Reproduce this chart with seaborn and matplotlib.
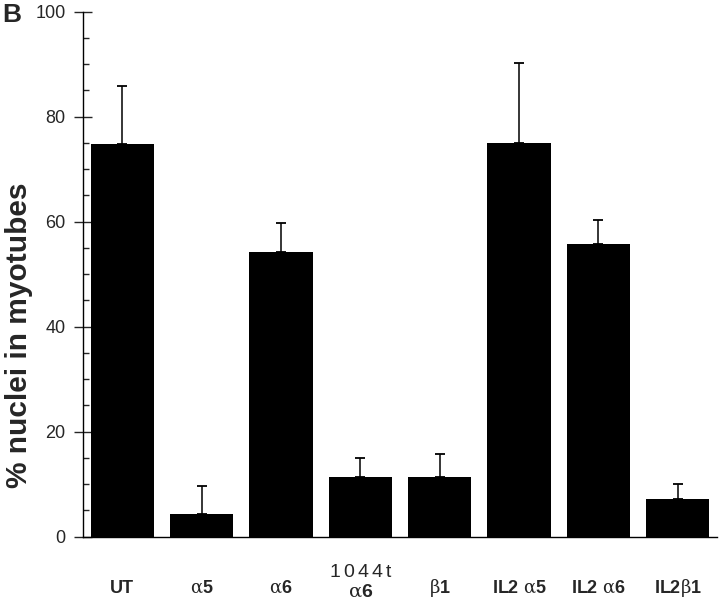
import matplotlib
matplotlib.use("Agg")
import matplotlib.pyplot as plt
from matplotlib.ticker import MultipleLocator
import seaborn as sns
import pandas as pd

categories = ["UT", "a5", "a6", "1044t a6", "b1", "IL2 a5", "IL2 a6", "IL2 b1"]
values = [74.8, 4.3, 54.2, 11.3, 11.3, 75.0, 55.7, 7.1]
errors = [11.0, 5.4, 5.6, 3.6, 4.4, 15.3, 4.6, 2.9]
tick_labels = ["UT", r"$\mathrm{α}$5", r"$\mathrm{α}$6",
               "$\\mathsf{1\\,0\\,4\\,4\\,t}$\n$\\mathrm{α}$6",
               r"$\mathrm{β}$1", r"IL2 $\mathrm{α}$5", r"IL2 $\mathrm{α}$6", r"IL2$\mathrm{β}$1"]
y_ticks = [0, 20, 40, 60, 80, 100]

sns.set_style("ticks")
plt.rcParams["font.family"] = ["Liberation Sans", "DejaVu Sans"]
plt.rcParams["mathtext.fontset"] = "custom"
plt.rcParams["mathtext.rm"] = "DejaVu Serif"
plt.rcParams["mathtext.sf"] = "Liberation Sans"
plt.rcParams["mathtext.bf"] = "DejaVu Serif:bold"

df = pd.DataFrame({"cat": categories, "val": values, "err": errors})

fig = plt.figure(figsize=(7.2, 6.05), dpi=100)
ax = fig.add_axes([0.1149, 0.1129, 0.8813, 0.8678])

sns.barplot(data=df, x="cat", y="val", color="black", saturation=1,
            width=0.8, ax=ax, errorbar=None, edgecolor="black", linewidth=0)
ax.errorbar(range(len(categories)), df["val"],
            yerr=[[0] * len(errors), df["err"]], fmt="none",
            ecolor="black", elinewidth=1.1, capsize=3.5, capthick=1.3)

ax.set_xlim(-0.5, len(categories) - 0.5)
ax.set_ylim(0, 100)
ax.set_yticks(y_ticks)
ax.set_yticklabels([str(t) for t in y_ticks], fontsize=13)
ax.yaxis.set_minor_locator(MultipleLocator(5))
ax.tick_params(axis="y", which="major", direction="inout", length=13.5,
               width=1.0, pad=5.5)
ax.tick_params(axis="y", which="minor", direction="in", length=4, width=1.0)

ax.set_xticks(range(len(categories)))
ax.set_xticklabels(tick_labels, fontsize=13, fontweight="bold")
ax.tick_params(axis="x", length=0, pad=37)
for i, lab in enumerate(ax.get_xticklabels()):
    lab.set_va("center")
    lab.set_ha("center")
    lab.set_multialignment("center")
    if i == 3:
        lab.set_fontsize(14)
ax.xaxis.get_major_ticks()[3].set_pad(33)

ax.set_xlabel("")
ax.set_ylabel("% nuclei in myotubes", fontsize=21.5, fontweight="bold")
ax.yaxis.set_label_coords(-0.079, 0.384)

sns.despine(ax=ax, top=True, right=True)
for s in ["left", "bottom"]:
    ax.spines[s].set_linewidth(1.0)
    ax.spines[s].set_color("black")

fig.text(2 / 720, 1 - 22 / 605, "B", fontsize=19, fontweight="bold",
         ha="left", va="baseline")

fig.savefig("out.png", dpi=100)
